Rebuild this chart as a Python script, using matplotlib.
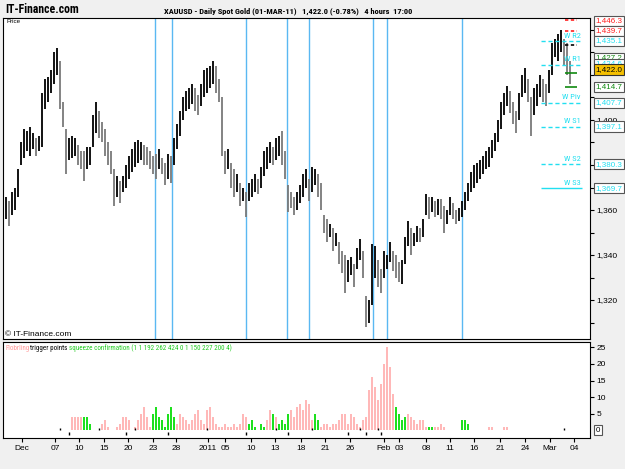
import matplotlib
matplotlib.use('Agg')
import matplotlib.pyplot as plt
import matplotlib.transforms as mtransforms

# 4-hour XAUUSD bars (one entry every ~3 px)
lows = [1356, 1353, 1358, 1360, 1366, 1380, 1383, 1386, 1384, 1387,
        1384, 1386, 1388, 1405, 1408, 1412, 1416, 1420, 1405, 1397,
        1376, 1382, 1383, 1384, 1380, 1378, 1373, 1378, 1380, 1388,
        1394, 1392, 1390, 1384, 1380, 1376, 1362, 1366, 1363, 1368,
        1370, 1374, 1377, 1379, 1381, 1382, 1380, 1380, 1378, 1376,
        1374, 1378, 1376, 1371, 1374, 1372, 1380, 1387, 1393, 1400,
        1404, 1405, 1407, 1404, 1402, 1406, 1410, 1412, 1414, 1416,
        1412, 1408, 1384, 1376, 1378, 1370, 1366, 1368, 1362, 1364,
        1357, 1364, 1366, 1368, 1367, 1370, 1375, 1378, 1381, 1380,
        1382, 1384, 1380, 1374, 1359, 1361, 1358, 1360, 1363, 1366,
        1370, 1364, 1368, 1371, 1366, 1360, 1350, 1346, 1348, 1342,
        1344, 1336, 1332, 1323, 1328, 1331, 1326, 1334, 1338, 1330,
        1308, 1310, 1318, 1330, 1326, 1323, 1330, 1334, 1337, 1333,
        1330, 1328, 1327, 1336, 1344, 1340, 1344, 1346, 1346, 1348,
        1358, 1356, 1359, 1357, 1358, 1356, 1350, 1354, 1358, 1356,
        1354, 1355, 1357, 1360, 1364, 1368, 1370, 1372, 1374, 1376,
        1378, 1379, 1383, 1386, 1390, 1396, 1402, 1406, 1403, 1398,
        1394, 1400, 1410, 1412, 1408, 1393, 1402, 1406, 1410, 1408,
        1406, 1412, 1420, 1428, 1426, 1430, 1424, 1420, 1416]
highs = [1366, 1364, 1368, 1370, 1378, 1390, 1396, 1395, 1397, 1394,
         1392, 1393, 1412, 1418, 1419, 1422, 1430, 1432, 1426, 1408,
         1396, 1392, 1393, 1392, 1389, 1386, 1386, 1388, 1388, 1402,
         1408, 1404, 1399, 1396, 1390, 1386, 1378, 1375, 1373, 1375,
         1380, 1384, 1387, 1390, 1391, 1390, 1389, 1388, 1386, 1384,
         1385, 1387, 1383, 1381, 1385, 1384, 1392, 1398, 1404, 1410,
         1413, 1414, 1416, 1414, 1411, 1416, 1422, 1423, 1424, 1426,
         1424, 1418, 1410, 1386, 1387, 1381, 1378, 1376, 1372, 1370,
         1368, 1372, 1374, 1376, 1374, 1379, 1386, 1388, 1390, 1388,
         1392, 1393, 1395, 1386, 1371, 1368, 1366, 1368, 1371, 1376,
         1378, 1374, 1379, 1378, 1376, 1372, 1358, 1356, 1354, 1352,
         1350, 1346, 1342, 1340, 1338, 1339, 1336, 1343, 1347, 1342,
         1322, 1320, 1345, 1344, 1338, 1334, 1342, 1340, 1346, 1342,
         1340, 1337, 1338, 1348, 1355, 1352, 1350, 1353, 1352, 1356,
         1367, 1366, 1366, 1364, 1365, 1365, 1362, 1360, 1366, 1363,
         1360, 1361, 1364, 1368, 1372, 1377, 1380, 1381, 1382, 1384,
         1386, 1388, 1391, 1394, 1400, 1408, 1412, 1415, 1413, 1408,
         1404, 1412, 1420, 1423, 1418, 1410, 1414, 1416, 1420, 1418,
         1416, 1422, 1434, 1436, 1438, 1440, 1436, 1434, 1426]

# lower panel: squeeze histogram (pink) and confirmation (green)
squeeze = [0, 0, 0, 0, 0, 0, 0, 0, 0, 0,
           0, 0, 0, 0, 0, 0, 0, 0, 0, 0,
           0, 0, 4, 4, 4, 4, 0, 0, 0, 0,
           0, 0, 2, 3, 1, 0, 0, 1, 2, 4,
           4, 3, 0, 1, 3, 5, 7, 4, 1, 0,
           0, 0, 0, 0, 0, 0, 0, 2, 5, 4,
           3, 2, 3, 5, 6, 3, 2, 6, 7, 4,
           2, 1, 1, 2, 1, 1, 2, 1, 2, 5,
           4, 0, 0, 0, 0, 0, 0, 3, 6, 0,
           4, 0, 0, 0, 0, 6, 4, 7, 8, 6,
           9, 8, 3, 0, 0, 1, 2, 2, 1, 2,
           2, 3, 5, 5, 2, 5, 4, 2, 1, 3,
           4, 12, 16, 13, 9, 14, 20, 25, 19, 11,
           0, 0, 0, 0, 5, 4, 3, 2, 3, 3,
           1, 0, 0, 1, 1, 2, 1, 0, 0, 0,
           0, 0, 0, 0, 0, 0, 0, 0, 0, 0,
           0, 1, 1, 0, 0, 0, 1, 1, 0, 0,
           0, 0, 0, 0, 0, 0, 0, 0, 0, 0,
           0, 0, 0, 0, 0, 0, 0, 0, 0]
confirm = [0, 0, 0, 0, 0, 0, 0, 0, 0, 0,
           0, 0, 0, 0, 0, 0, 0, 0, 0, 0,
           0, 0, 0, 0, 0, 0, 4, 4, 2, 0,
           0, 0, 0, 0, 0, 0, 0, 0, 0, 0,
           0, 0, 0, 0, 0, 0, 0, 0, 0, 5,
           7, 4, 3, 1, 5, 7, 4, 0, 0, 0,
           0, 0, 0, 0, 0, 0, 0, 0, 0, 0,
           0, 0, 0, 0, 0, 0, 0, 0, 0, 0,
           0, 2, 3, 1, 0, 2, 1, 0, 0, 5,
           0, 2, 3, 2, 5, 0, 0, 0, 0, 0,
           0, 0, 0, 5, 3, 0, 0, 0, 0, 0,
           0, 0, 0, 0, 0, 0, 0, 0, 0, 0,
           0, 0, 0, 0, 0, 0, 0, 0, 0, 0,
           7, 5, 3, 4, 0, 0, 0, 0, 0, 0,
           0, 1, 1, 0, 0, 0, 0, 0, 0, 0,
           0, 0, 3, 3, 2, 0, 0, 0, 0, 0,
           0, 0, 0, 0, 0, 0, 0, 0, 0, 0,
           0, 0, 0, 0, 0, 0, 0, 0, 0, 0,
           0, 0, 0, 0, 0, 0, 0, 0, 0]
trig_hi = [18, 31, 43, 67, 90, 102, 118, 124, 186]
trig_lo = [21, 40, 54, 80, 94, 114, 120, 125]

# session separators (bar index)
vlines_at = [49.7, 55.3, 80, 93.7, 101, 122.3, 127, 152]

date_pos = [5.3, 16.3, 24.3, 32.7, 40.7, 49, 56.7, 67.3, 73, 81.7, 89.7, 98.3,
            106.3, 114.7, 126, 131, 140, 148, 156, 164.7, 173, 181.3, 189.3]
date_labels = ['Dec', '07', '10', '15', '20', '23', '28', '2011', '05', '10', '13', '18',
               '21', '26', 'Feb', '03', '08', '11', '16', '21', '24', 'Mar', '04']

# 1,380 / 1,420 / 1,440 sit under the value boxes in the original
price_ticks = [1320, 1340, 1360, 1380, 1400, 1420, 1440]
price_labels = ['1,320', '1,340', '1,360', '', '1,400', '', '']

piv_names = ['W R2', 'W R1', 'W Piv', 'W S1', 'W S2', 'W S3']
piv_vals = [1435.1, 1424.6, 1407.7, 1397.1, 1380.3, 1369.7]

box_vals = [1444.0, 1439.7, 1435.1, 1427.7, 1424.9, 1422.4, 1414.7, 1407.7, 1397.1, 1380.3, 1369.7]
box_texts = ['1,446.3', '1,439.7', '1,435.1', '1,427.2', '1,424.6', '1,422.0', '1,414.7',
             '1,407.7', '1,397.1', '1,380.3', '1,369.7']
box_cols = ['red', 'red', 'cyan', 'green', 'cyan', 'last', 'green',
            'cyan', 'cyan', 'cyan', 'cyan']

mark_vals = [1444.5, 1439.4, 1433.3, 1421.0, 1414.8]
mark_cols = ['red', 'red', 'black', 'green', 'green']

CYAN = '#22dff0'
RED = '#ff2020'
GRN = '#108a10'
colmap = {'red': RED, 'cyan': CYAN, 'green': GRN, 'black': 'black', 'last': 'black'}

plt.rcParams['font.family'] = ['Liberation Sans', 'DejaVu Sans']
narrow = ['Roboto Condensed', 'Liberation Sans']

W, H = 625, 469
def px_box(x0, y0, x1, y1):
    return [x0 / W, 1 - y1 / H, (x1 - x0) / W, (y1 - y0) / H]

fig = plt.figure(figsize=(6.25, 4.69), dpi=100, facecolor='#f0f0f0')
ax = fig.add_axes(px_box(3, 18, 590, 339))
ax2 = fig.add_axes(px_box(3, 342, 590, 438))

n = len(highs)
idx = list(range(n))
mids = [(h + l) / 2 for h, l in zip(highs, lows)]
cols = ['black' if i == 0 or mids[i] >= mids[i - 1] else '#7a7a7a' for i in idx]

for x in vlines_at:
    ax.axvline(x, color='#5ab8f2', lw=1.0, zorder=1)
ax.vlines(idx, lows, highs, colors=cols, lw=1.3, zorder=3)

# weekly pivots
for name, v in zip(piv_names, piv_vals):
    ls = '-' if name == 'W S3' else (0, (3, 2))
    ax.hlines(v, 178.3, 192, color=CYAN, lw=1.0, ls=ls, zorder=4)
    ax.text(191.5, v + 1.0, name, color=CYAN, fontsize=6, ha='right', va='bottom',
            zorder=5, family=narrow)
for v, c in zip(mark_vals, mark_cols):
    ls = '-' if c == 'green' else (0, (2, 1.5))
    ax.hlines(v, 186.5, 190.5, color=colmap[c], lw=1.2, ls=ls, zorder=4)

ax.set_xlim(-1, 194.67)
ax.set_ylim(1302.67, 1445.33)
ax.set_xticks([])
ax.yaxis.tick_right()
ax.set_yticks(price_ticks)
ax.set_yticklabels(price_labels)
ax.set_yticks([1310, 1330, 1350, 1370, 1390, 1410, 1430], minor=True)
ax.tick_params(axis='y', which='both', direction='out', length=3, width=0.8,
               labelsize=6, pad=1.5)
for s in ax.spines.values():
    s.set_linewidth(0.8)

trans = mtransforms.blended_transform_factory(ax.transAxes, ax.transData)
for v, t, c in zip(box_vals, box_texts, box_cols):
    if c == 'last':
        bb = dict(boxstyle='square,pad=0.2', fc='#f5c000', ec='#333333', lw=0.8)
    else:
        bb = dict(boxstyle='square,pad=0.2', fc='white', ec='#555555', lw=0.8)
    ax.text(1.01, v, t, transform=trans, color=colmap[c], fontsize=5.8,
            ha='left', va='center', bbox=bb, clip_on=False, zorder=10)

ax.text(0.006, 0.997, 'Price', transform=ax.transAxes, fontsize=4.5, va='top', ha='left')
ax.text(0.003, 0.004, '\u00a9 IT-Finance.com', transform=ax.transAxes, fontsize=6,
        va='bottom', ha='left')

# lower panel
ax2.bar(idx, squeeze, width=0.75, color='#ffb8b8', edgecolor='none', zorder=2)
ax2.bar(idx, confirm, width=0.75, color='#1ee01e', edgecolor='none', zorder=3)
ax2.vlines(trig_hi, 0, 0.8, colors='black', lw=1.0, zorder=4)
ax2.vlines(trig_lo, -1.4, -0.6, colors='black', lw=1.0, zorder=4)
ax2.set_xlim(-1, 194.67)
ax2.set_ylim(-2.3, 26.6)
ax2.yaxis.tick_right()
ax2.set_yticks([5, 10, 15, 20, 25])
ax2.tick_params(axis='y', direction='out', length=3, width=0.8, labelsize=6, pad=1.5)
ax2.set_xticks(date_pos)
ax2.set_xticklabels(date_labels)
ax2.tick_params(axis='x', direction='out', length=3, width=0.8, labelsize=6, pad=2)
for s in ax2.spines.values():
    s.set_linewidth(0.8)
trans2 = mtransforms.blended_transform_factory(ax2.transAxes, ax2.transData)
ax2.text(1.01, 0, '0', transform=trans2, fontsize=5.8, ha='left', va='center',
         bbox=dict(boxstyle='square,pad=0.2', fc='white', ec='#555555', lw=0.8),
         clip_on=False)

fig.text(5 / W, 1 - 350 / H, 'Flobrling', color='#ff9a9a', fontsize=5, family=narrow)
fig.text(30 / W, 1 - 350 / H, 'trigger points', color='black', fontsize=5, family=narrow)
fig.text(69 / W, 1 - 350 / H, 'squeeze confirmation (1 1 192 262 424 0 1 150 227 200 4)',
         color='#22cc22', fontsize=5, family=narrow)

# header
fig.text(5 / W, 1 - 13 / H, 'IT-Finance.com', fontsize=8.5, fontweight='bold',
         family=narrow)
fig.text(288 / W, 1 - 13 / H,
         'XAUUSD - Daily Spot Gold (01-MAR-11)   1,422.0 (-0.78%)   4 hours  17:00',
         fontsize=6.0, fontweight='bold', ha='center', family=narrow)

fig.savefig('out.png', dpi=100, facecolor=fig.get_facecolor())
